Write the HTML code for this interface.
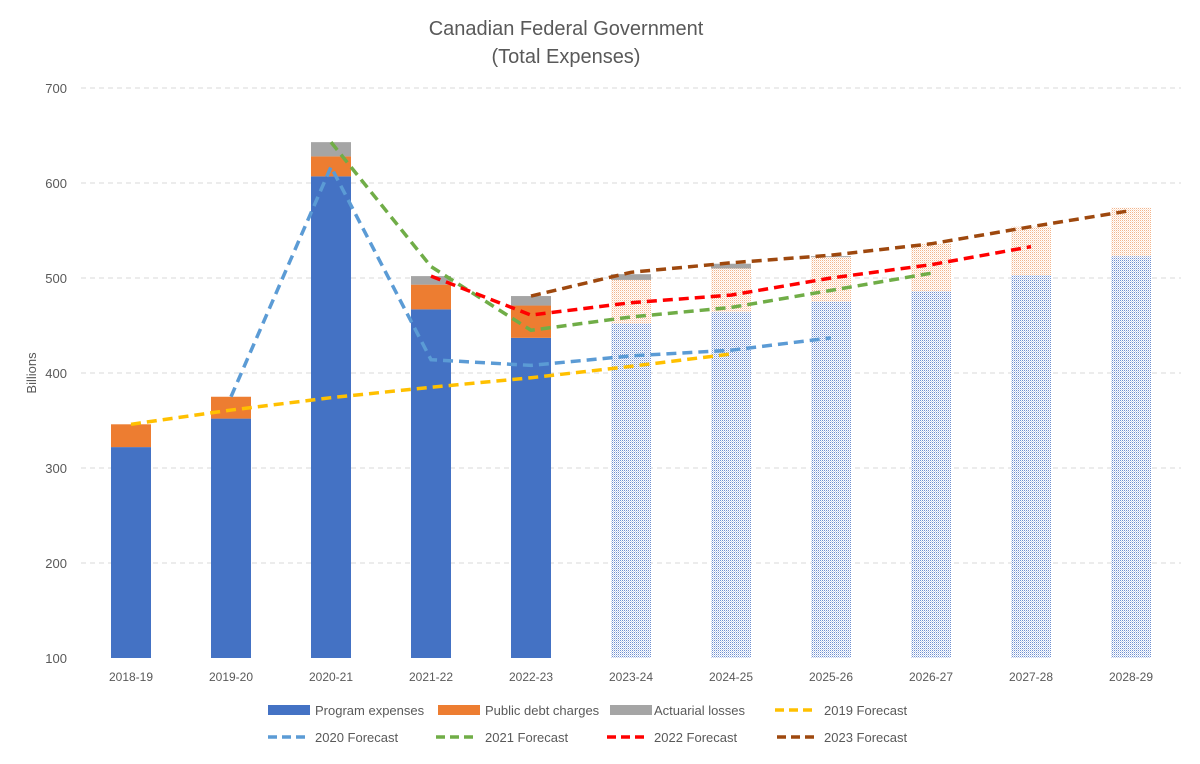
<!DOCTYPE html>
<html><head><meta charset="utf-8"><style>
body{margin:0;background:#fff}
svg text{font-family:"Liberation Sans",sans-serif;fill:#595959}
</style></head><body>
<svg id="chart" width="1200" height="759" viewBox="0 0 1200 759">
<defs>
<pattern id="pBlue" width="2" height="2" patternUnits="userSpaceOnUse"><rect width="2" height="2" fill="#fff"/><rect width="1" height="1" fill="#6f8fd0"/><rect x="1" y="1" width="1" height="1" fill="#c5d2ee"/></pattern>
<pattern id="pOrange" width="2" height="2" patternUnits="userSpaceOnUse"><rect width="2" height="2" fill="#fff"/><rect width="1" height="1" fill="#f3b48a"/><rect x="1" y="1" width="1" height="1" fill="#fbe3d2"/></pattern>
</defs>
<text x="566" y="35" text-anchor="middle" font-size="20">Canadian Federal Government</text>
<text x="566" y="63" text-anchor="middle" font-size="20">(Total Expenses)</text>
<text transform="translate(36,373) rotate(-90)" text-anchor="middle" font-size="13">Billions</text>
<g id="grid"></g><g id="bars"></g><g id="lines"></g><g id="xlabels"></g>
<g id="legend" font-size="13"></g>
</svg>
<script>
const categories=["2018-19","2019-20","2020-21","2021-22","2022-23","2023-24","2024-25","2025-26","2026-27","2027-28","2028-29"];
const programExp=[322,352,607,467,437,452,464,475,486,503,523];
const debtCharges=[24,23,21,26,34,46,46,47,50,51,51];
const actuarial=[0,0,15,9,10,6,5,1,0,0,0];
const forecastStart=5;
const yTicks=[100,200,300,400,500,600,700];
const f2019=[346,361,374,385,395,407,420];
const f2020=[null,375,617,414,408,418,424,437];
const f2021=[null,null,643,512,445,459,469,487,505];
const f2022=[null,null,null,502,461,474,482,500,514,533];
const f2023=[null,null,null,null,481,506,516,524,536,554,571];
const NS="http://www.w3.org/2000/svg";
const y=v=>658-(v-100)*0.95;
const x=i=>131+i*100;
function mk(t,a,p){const e=document.createElementNS(NS,t);for(const k in a)e.setAttribute(k,a[k]);p.appendChild(e);return e;}
const grid=document.getElementById('grid');
yTicks.forEach(t=>{
 if(t>100){const l=mk('line',{x1:81,x2:1181,y1:y(t),y2:y(t),stroke:'#d9d9d9','stroke-dasharray':'5,4'},grid);
 
 }
 const tx=mk('text',{x:67,y:y(t)+5,'text-anchor':'end','font-size':13},grid);tx.textContent=t;
 
 
});
const bars=document.getElementById('bars');
categories.forEach((c,i)=>{
 const fc=i>=forecastStart;
 const segs=[[programExp[i],fc?'url(#pBlue)':'#4472C4','program'],[debtCharges[i],fc?'url(#pOrange)':'#ED7D31','debt'],[actuarial[i],'#A5A5A5','actuarial']];
 let base=100;
 segs.forEach(s=>{const top=(s[2]==='program')?s[0]:base+s[0];
  if(top>base){const r=mk('rect',{x:x(i)-20,width:40,y:y(top),height:y(base)-y(top),fill:s[1]},bars);
  
  }
  base=top;});
 const t=mk('text',{x:x(i),y:681,'text-anchor':'middle','font-size':12},document.getElementById('xlabels'));t.textContent=c;
 
 
});
const series=[[f2019,'#FFC000','2019'],[f2020,'#5B9BD5','2020'],[f2021,'#70AD47','2021'],[f2022,'#FF0000','2022'],[f2023,'#9E480E','2023']];
const lines=document.getElementById('lines');
series.forEach(s=>{
 const pts=s[0].map((v,i)=>v==null?null:x(i)+','+y(v)).filter(p=>p);
 const p=mk('polyline',{points:pts.join(' '),fill:'none',stroke:s[1],'stroke-width':3.5,'stroke-dasharray':'10,6'},lines);
 
 
});
const lg=document.getElementById('legend');
const items=[[268,710,'rect','#4472C4','Program expenses',315],[438,710,'rect','#ED7D31','Public debt charges',485],[610,710,'rect','#A5A5A5','Actuarial losses',654],[775,710,'line','#FFC000','2019 Forecast',824],
[268,737,'line','#5B9BD5','2020 Forecast',315],[436,737,'line','#70AD47','2021 Forecast',485],[607,737,'line','#FF0000','2022 Forecast',654],[777,737,'line','#9E480E','2023 Forecast',824]];
items.forEach(it=>{
 const g=mk('g',{},lg);
 
 
 if(it[2]==='rect')mk('rect',{x:it[0],y:it[1]-5,width:42,height:10,fill:it[3]},g);
 else mk('line',{x1:it[0],x2:it[0]+40,y1:it[1],y2:it[1],stroke:it[3],'stroke-width':3.5,'stroke-dasharray':'9,5'},g);
 const t=mk('text',{x:it[5],y:it[1]+5},g);t.textContent=it[4];
});
</script>
</body></html>
